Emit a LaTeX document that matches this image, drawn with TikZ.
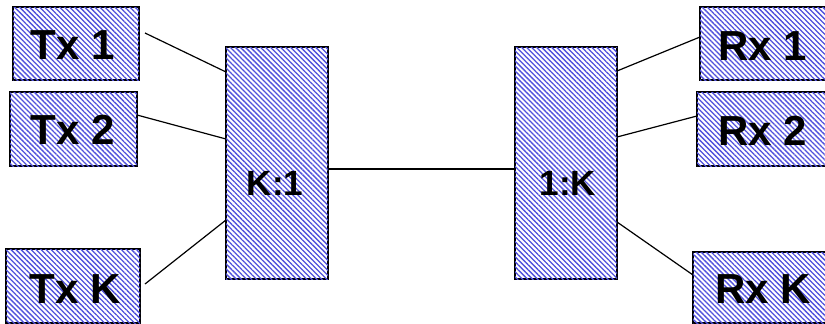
\documentclass[tikz,border=0pt]{standalone}
\usepackage{fontspec}
\setmainfont{Liberation Sans}
\usetikzlibrary{patterns.meta}

\definecolor{hatch}{RGB}{80,80,220}

\tikzset{
  x=1pt, y=-1pt,
  hatchbox/.style={draw=black, line width=1.5pt, fill=white, inner sep=0pt,
    anchor=north west, outer sep=0pt,
    postaction={pattern={Lines[angle=-45,distance=3.55pt,line width=1.3pt]},
      pattern color=hatch}},
  endlabel/.style={anchor=base, inner sep=0pt,
    font=\fontsize{42}{48}\selectfont\bfseries},
  muxlabel/.style={anchor=base, inner sep=0pt,
    font=\fontsize{35}{40}\selectfont\bfseries},
  wire/.style={draw=black, line width=1.2pt}
}

\begin{document}
\begin{tikzpicture}
  \useasboundingbox (0,0) rectangle (825,324);

  % transmitters
  \node[hatchbox, minimum width=126pt, minimum height=73pt] (tx1) at (13,7) {};
  \node[hatchbox, minimum width=127pt, minimum height=74pt] (tx2) at (10,92) {};
  \node[hatchbox, minimum width=134pt, minimum height=74pt] (txk) at (6,249) {};

  % multiplexer and demultiplexer
  \node[hatchbox, minimum width=102pt, minimum height=232pt] (mux) at (226,47) {};
  \node[hatchbox, minimum width=102pt, minimum height=232pt] (demux) at (515,47) {};

  % receivers
  \node[hatchbox, minimum width=132pt, minimum height=73pt] (rx1) at (700,7) {};
  \node[hatchbox, minimum width=132pt, minimum height=74pt] (rx2) at (697,92) {};
  \node[hatchbox, minimum width=134pt, minimum height=71pt] (rxk) at (693,252) {};

  % labels
  \node[endlabel] (ltx1) at (73,59) {Tx 1};
  \node[endlabel] (ltx2) at (73,144) {Tx 2};
  \node[endlabel] (ltxk) at (75,303) {Tx K};
  \node[muxlabel] (lmux) at (275,195) {K:1};
  \node[muxlabel] (ldemux) at (568,195) {1:K};
  \node[endlabel] (lrx1) at (763,60) {Rx 1};
  \node[endlabel] (lrx2) at (763,145) {Rx 2};
  \node[endlabel] (lrxk) at (763,303) {Rx K};

  % loose wire ends next to the transmitters
  \coordinate (t1) at (145,33);
  \coordinate (tk) at (145,284);

  % connectors
  \draw[wire] (t1) -- (mux.west |- {(0,72)});
  \draw[wire] (tx2.east |- {(0,115)}) -- (mux.west |- {(0,139)});
  \draw[wire] (tk) -- (mux.west |- {(0,220)});
  \draw[wire] (mux.east |- {(0,169)}) -- (demux.west |- {(0,169)});
  \draw[wire] (demux.east |- {(0,71)}) -- (rx1.west |- {(0,37)});
  \draw[wire] (demux.east |- {(0,137)}) -- (rx2.west |- {(0,116)});
  \draw[wire] (demux.east |- {(0,222)}) -- (rxk.west |- {(0,275)});
\end{tikzpicture}
\end{document}
